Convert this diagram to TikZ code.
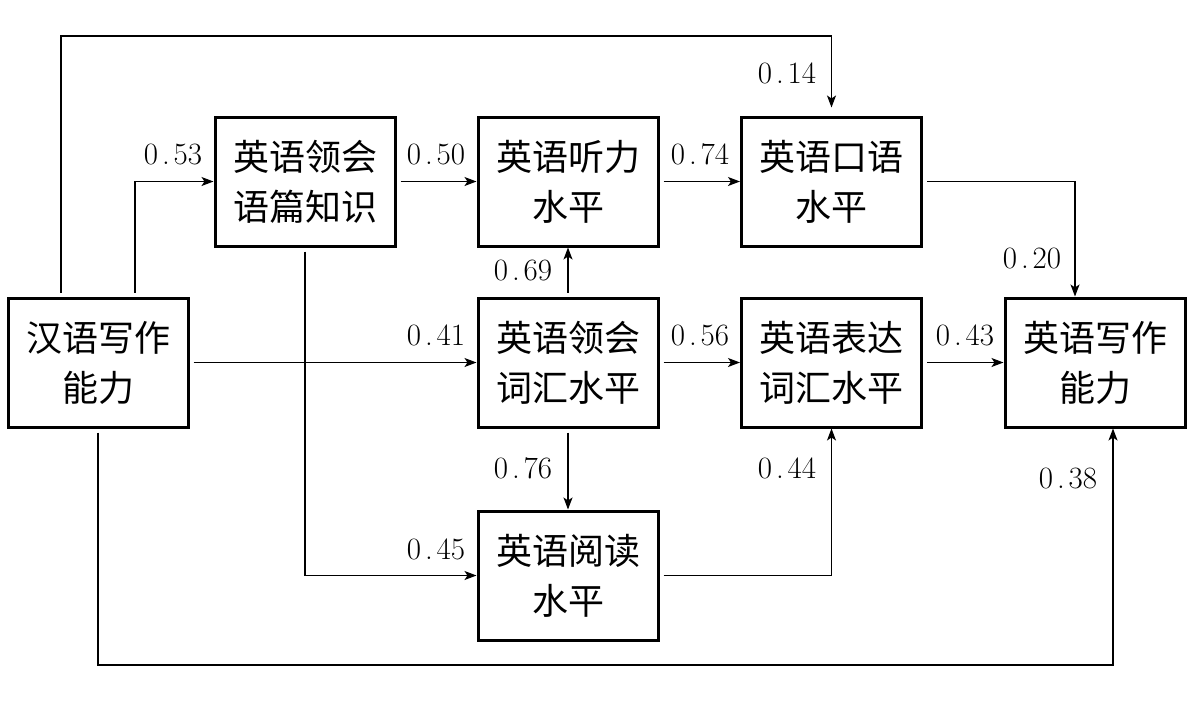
\documentclass[tikz,border=0pt]{standalone}
\usepackage{fontspec}
\newfontfamily\cjk{Noto Sans CJK SC}
\usetikzlibrary{arrows.meta,calc}
\newcommand\coefv[1]{0\makebox[0.5em]{.}#1}

\begin{document}
\begin{tikzpicture}[x=0.5pt, y=-0.5pt,
    box/.style={draw, line width=1.5pt, minimum width=90pt, minimum height=64.5pt,
      inner sep=0pt, align=center, font=\cjk\fontsize{18pt}{25pt}\selectfont},
    arr/.style={line width=0.6pt, -{Stealth[length=6pt, width=4.5pt, inset=1.5pt]}, shorten <=2pt},
    coef/.style={font=\fontsize{15.5pt}{18pt}\selectfont, inner sep=0pt}]
    \useasboundingbox (0,0) rectangle (1196,713);

    % Variables
    \node[box] (hanyu)   at (98,362.5)   {汉语写作\\能力};
    \node[box] (yupian)  at (305,181.5)  {英语领会\\语篇知识};
    \node[box] (tingli)  at (568,181.5)  {英语听力\\水平};
    \node[box] (kouyu)   at (831.5,181.5) {英语口语\\水平};
    \node[box] (lhcihui) at (568,362.5)  {英语领会\\词汇水平};
    \node[box] (bdcihui) at (831.5,362.5) {英语表达\\词汇水平};
    \node[box] (yuedu)   at (568,575.5)  {英语阅读\\水平};
    \node[box] (yingyu)  at (1095,362.5) {英语写作\\能力};

    % Turning points of the long paths
    \coordinate (top) at (0,36);
    \coordinate (bot) at (0,665);
    \coordinate (hyL) at ($(hanyu.north)+(-37,0)$);
    \coordinate (hyR) at ($(hanyu.north)+(37,0)$);
    \coordinate (kyIn) at ($(yingyu.north)+(-20,0)$);
    \coordinate (hyOut) at ($(yingyu.south)+(18,0)$);

    % Paths
    \draw[arr] (hyR) |- (yupian.west);
    \draw[arr, shorten >=4pt] (hyL) -- (hyL |- top) -| (kouyu.north);
    \draw[arr] (yupian.east) -- (tingli.west);
    \draw[arr] (tingli.east) -- (kouyu.west);
    \draw[arr] (kouyu.east) -| (kyIn);
    \draw[arr] (hanyu.east) -- (lhcihui.west);
    \draw[arr] (lhcihui.north) -- (tingli.south);
    \draw[arr] (lhcihui.east) -- (bdcihui.west);
    \draw[arr] (bdcihui.east) -- (yingyu.west);
    \draw[arr] (lhcihui.south) -- (yuedu.north);
    \draw[arr] (yupian.south) |- (yuedu.west);
    \draw[arr] (yuedu.east) -| (bdcihui.south);
    \draw[arr] (hanyu.south) -- (hanyu.south |- bot) -| (hyOut);

    % Path coefficients
    \node[coef] (c53) at (173,154)  {\coefv{53}};
    \node[coef] (c14) at (787,73)   {\coefv{14}};
    \node[coef] (c50) at (436,154)  {\coefv{50}};
    \node[coef] (c74) at (700,154)  {\coefv{74}};
    \node[coef] (c20) at (1032,258) {\coefv{20}};
    \node[coef] (c41) at (436,335)  {\coefv{41}};
    \node[coef] (c69) at (523,270)  {\coefv{69}};
    \node[coef] (c56) at (700,335)  {\coefv{56}};
    \node[coef] (c43) at (965,335)  {\coefv{43}};
    \node[coef] (c76) at (523,468)  {\coefv{76}};
    \node[coef] (c44) at (787,468)  {\coefv{44}};
    \node[coef] (c45) at (436,549)  {\coefv{45}};
    \node[coef] (c38) at (1068,478) {\coefv{38}};
  \end{tikzpicture}
\end{document}
